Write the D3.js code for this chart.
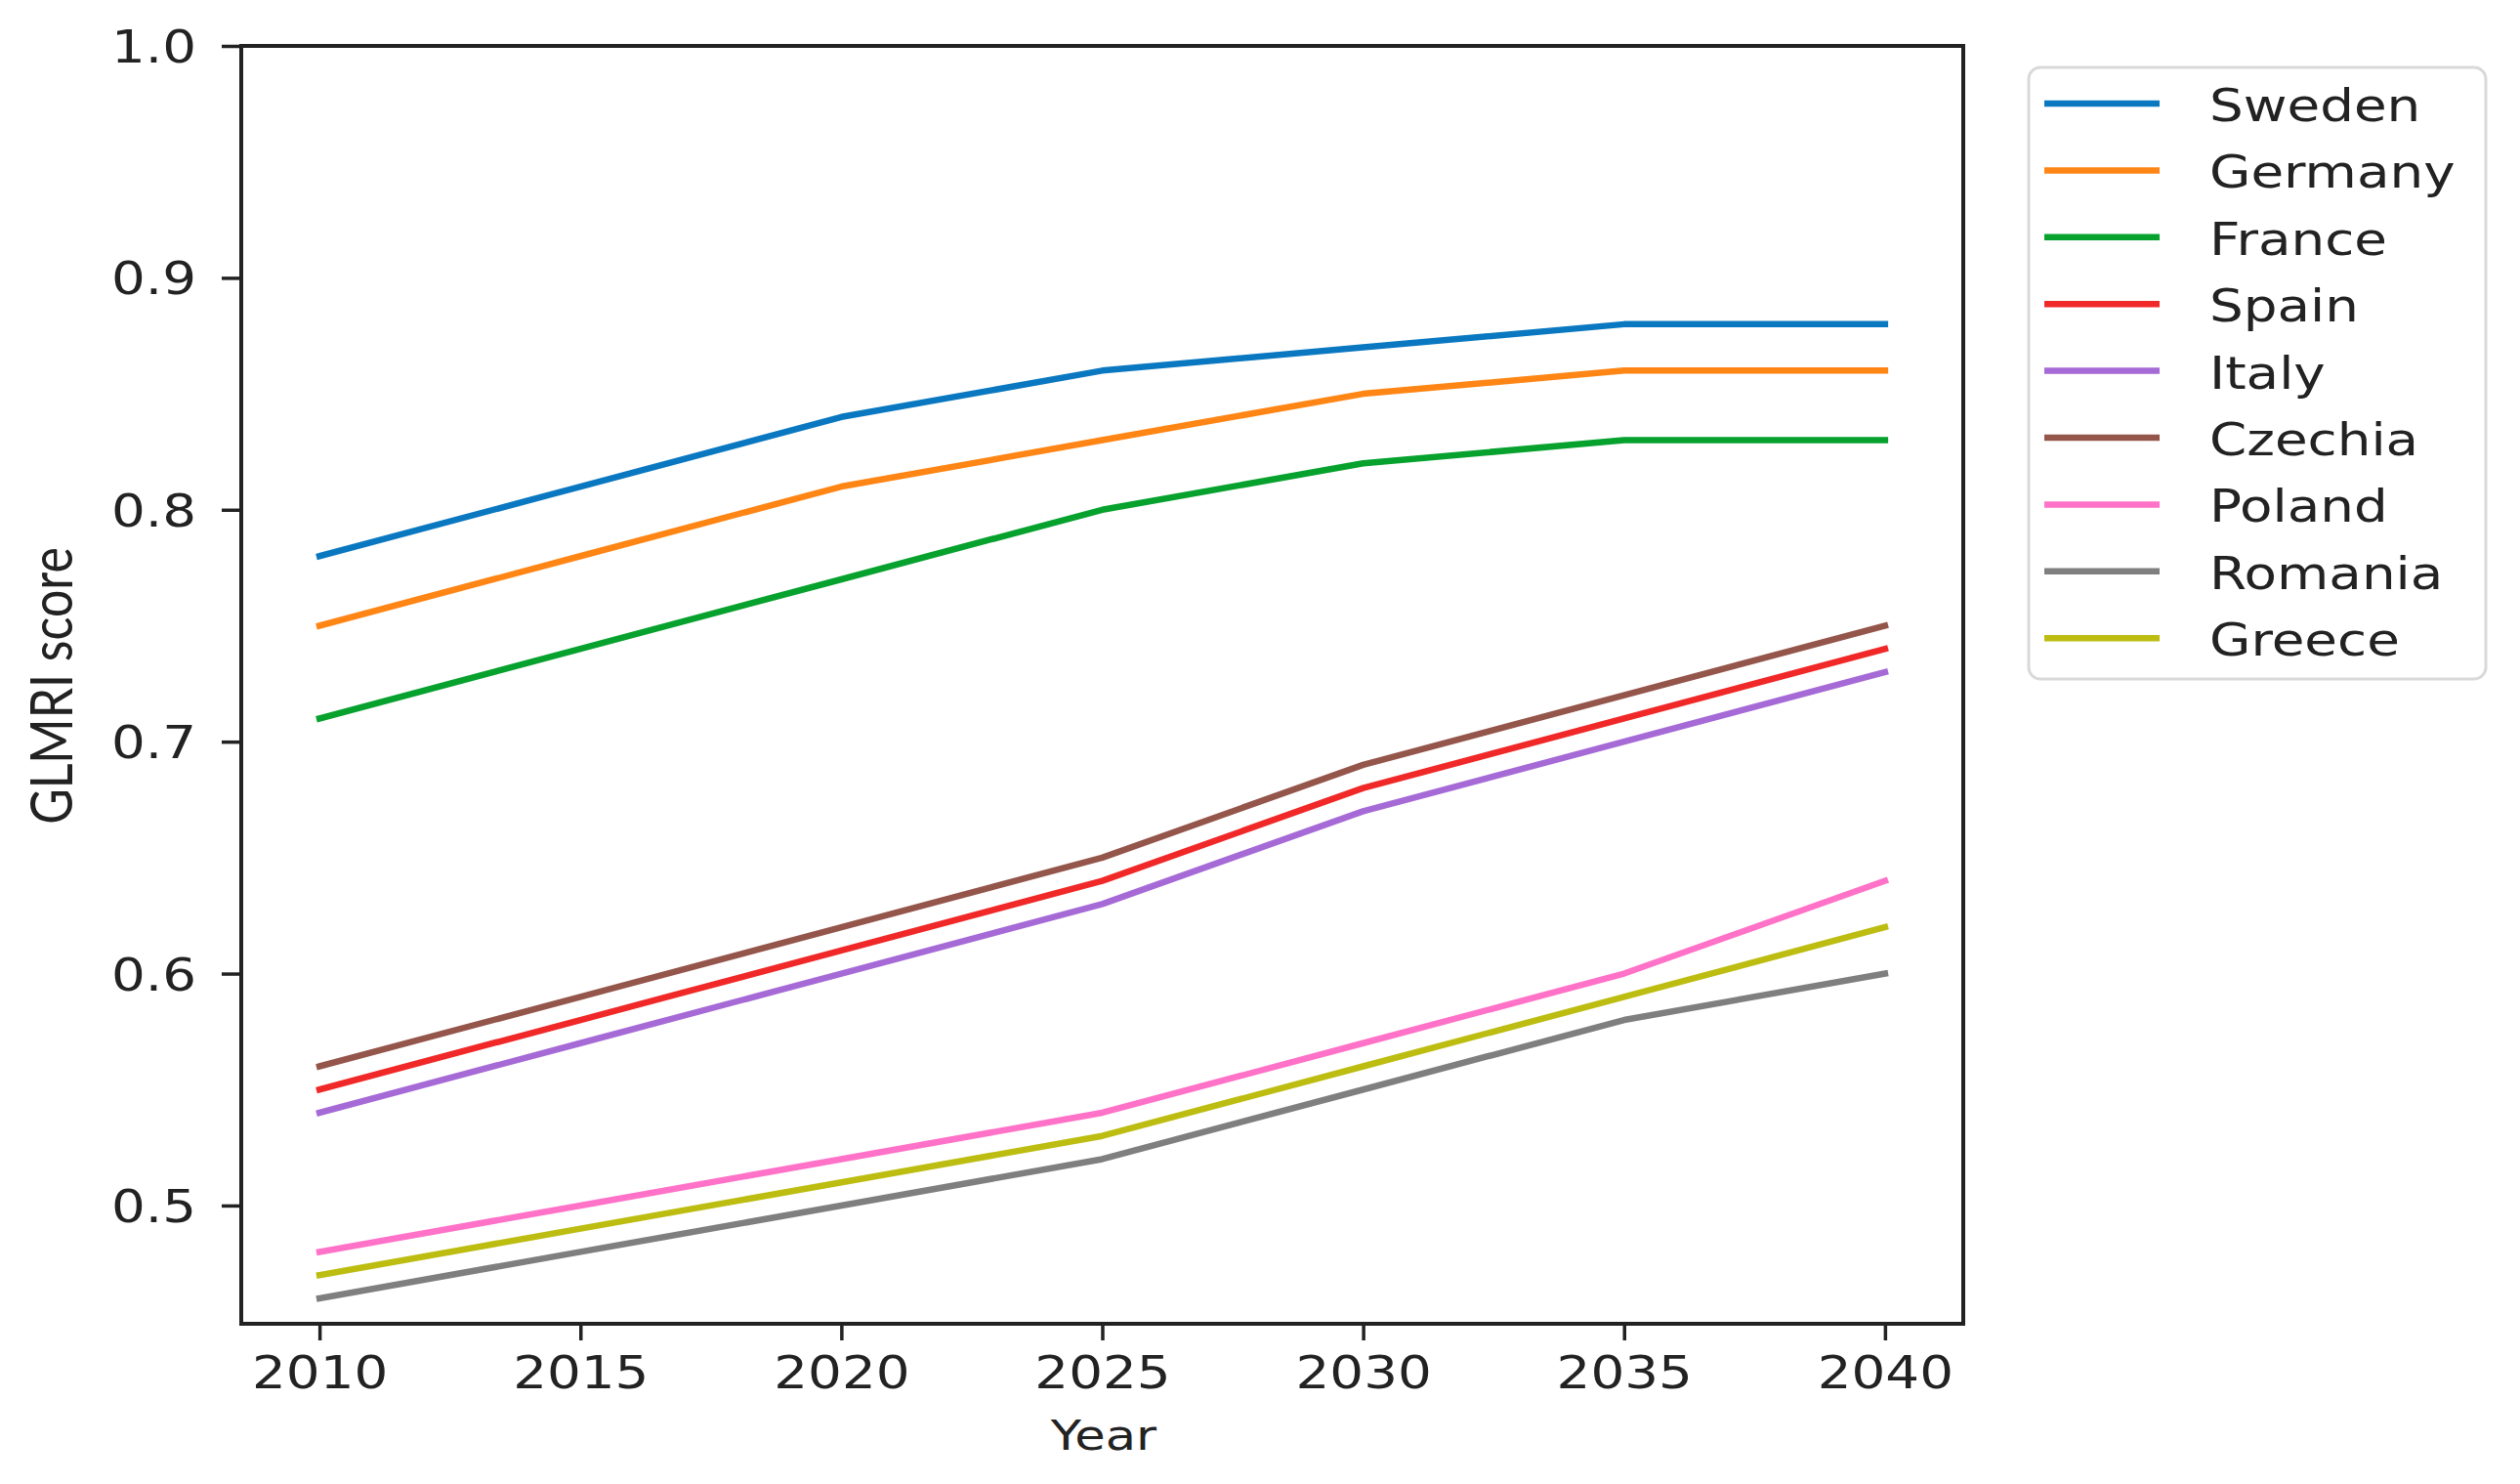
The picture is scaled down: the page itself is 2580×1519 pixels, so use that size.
<!DOCTYPE html>
<html>
<head>
<meta charset="utf-8">
<script src="https://cdn.jsdelivr.net/npm/d3@7"></script>
<style>
  html, body { margin: 0; padding: 0; background: #fff; }
  svg { display: block; }
</style>
</head>
<body>
<svg id="chart" width="2580" height="1519"></svg>
<script>
const years = [2010, 2015, 2020, 2025, 2030, 2035, 2040];
const countries = ["Sweden", "Germany", "France", "Spain", "Italy", "Czechia", "Poland", "Romania", "Greece"];
const sweden  = [0.78, 0.81, 0.84, 0.86, 0.87, 0.88, 0.88];
const germany = [0.75, 0.78, 0.81, 0.83, 0.85, 0.86, 0.86];
const france  = [0.71, 0.74, 0.77, 0.80, 0.82, 0.83, 0.83];
const spain   = [0.55, 0.58, 0.61, 0.64, 0.68, 0.71, 0.74];
const italy   = [0.54, 0.57, 0.60, 0.63, 0.67, 0.70, 0.73];
const czechia = [0.56, 0.59, 0.62, 0.65, 0.69, 0.72, 0.75];
const poland  = [0.48, 0.50, 0.52, 0.54, 0.57, 0.60, 0.64];
const romania = [0.46, 0.48, 0.50, 0.52, 0.55, 0.58, 0.60];
const greece  = [0.47, 0.49, 0.51, 0.53, 0.56, 0.59, 0.62];
const colors = ["#0a78c0", "#ff8515", "#07a12e", "#f02828", "#a66ad6", "#94554a", "#ff72c8", "#7f7f7f", "#bcbd10"];
const yTicks = [0.5, 0.6, 0.7, 0.8, 0.9, 1.0];
const xTicks = [2010, 2015, 2020, 2025, 2030, 2035, 2040];
const xLabel = "Year";
const yLabel = "GLMRI score";

const seriesValues = [sweden, germany, france, spain, italy, czechia, poland, romania, greece];
const series = countries.map((name, i) => ({
  name, color: colors[i],
  points: years.map((yr, j) => ({ x: yr, y: seriesValues[i][j] }))
}));

const plot = { left: 247, right: 2010, top: 47, bottom: 1355 };
const SX = 1.19; // horizontal stretch of the picture
const FONT = "'DejaVu Sans', sans-serif";

const svg = d3.select("#chart");

const x = d3.scaleLinear().domain([2008.5, 2041.5]).range([plot.left, plot.right]);
const y = d3.scaleLinear().domain([0.449, 1.0]).range([plot.bottom, plot.top]);

// lines
const line = d3.line().x(d => x(d.x)).y(d => y(d.y));
svg.append("g").selectAll("path").data(series).join("path")
  .attr("d", d => line(d.points))
  .attr("fill", "none")
  .attr("stroke", d => d.color)
  .attr("stroke-width", 6.5)
  .attr("stroke-linejoin", "round")
  .attr("stroke-linecap", "square");

// x axis
const gx = svg.append("g").attr("transform", `translate(0,${plot.bottom})`)
  .call(d3.axisBottom(x).tickValues(xTicks).tickFormat(d3.format("d")).tickSize(17).tickSizeOuter(0));
gx.select(".domain").remove();
gx.selectAll(".tick line").attr("stroke", "#222").attr("stroke-width", 3.5);
gx.selectAll(".tick text")
  .attr("x", 0).attr("y", 66).attr("dy", null)
  .attr("transform", `scale(${SX},1)`)
  .attr("font-family", FONT).attr("font-size", 46).attr("fill", "#222");

// y axis
const gy = svg.append("g").attr("transform", `translate(${plot.left},0)`)
  .call(d3.axisLeft(y).tickValues(yTicks).tickFormat(d3.format(".1f")).tickSize(20).tickSizeOuter(0));
gy.select(".domain").remove();
gy.selectAll(".tick line").attr("stroke", "#222").attr("stroke-width", 3.5);
gy.selectAll(".tick text")
  .attr("x", 0).attr("dy", "0.36em")
  .attr("transform", `translate(-46,0) scale(${SX},1)`)
  .attr("font-family", FONT).attr("font-size", 46).attr("fill", "#222");

// frame
svg.append("rect")
  .attr("x", plot.left).attr("y", plot.top)
  .attr("width", plot.right - plot.left).attr("height", plot.bottom - plot.top)
  .attr("fill", "none").attr("stroke", "#222").attr("stroke-width", 4);

// axis labels
svg.append("text")
  .attr("transform", `translate(1130,1484) scale(${SX},1)`)
  .attr("text-anchor", "middle")
  .attr("font-family", FONT).attr("font-size", 43).attr("fill", "#222")
  .text(xLabel);

svg.append("text")
  .attr("transform", `translate(74,702) scale(${SX},1) rotate(-90)`)
  .attr("text-anchor", "middle")
  .attr("font-family", "Lato, 'Open Sans', sans-serif").attr("font-size", 50).attr("fill", "#222")
  .text(yLabel);

// legend
const lg = svg.append("g");
lg.append("rect")
  .attr("x", 2077).attr("y", 69).attr("width", 2545 - 2077).attr("height", 695 - 69)
  .attr("rx", 12).attr("ry", 12)
  .attr("fill", "#fff").attr("stroke", "#d9d9d9").attr("stroke-width", 3);
const rowH = 68.4;
const items = lg.selectAll("g.item").data(series).join("g")
  .attr("class", "item")
  .attr("transform", (d, i) => `translate(0,${106 + i * rowH})`);
items.append("line")
  .attr("x1", 2093).attr("x2", 2211).attr("y1", 0).attr("y2", 0)
  .attr("stroke", d => d.color).attr("stroke-width", 6.5);
items.append("text")
  .attr("transform", `translate(2262,18) scale(${SX},1)`)
  .attr("font-family", FONT).attr("font-size", 46).attr("fill", "#222")
  .text(d => d.name);
</script>
</body>
</html>
